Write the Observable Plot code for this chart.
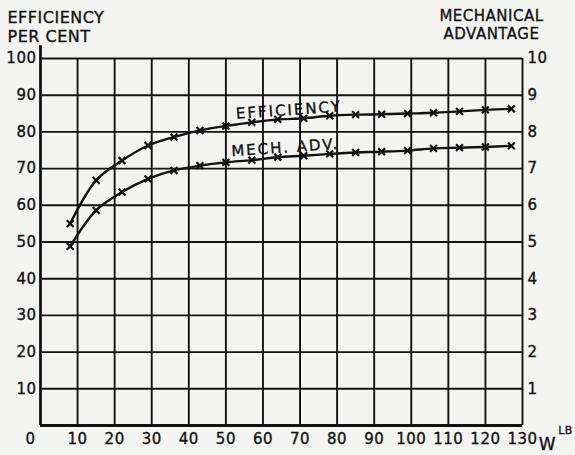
<!DOCTYPE html>
<html>
<head>
<meta charset="utf-8">
<script src="https://cdn.jsdelivr.net/npm/d3@7"></script>
<script src="https://cdn.jsdelivr.net/npm/@observablehq/plot@0.6"></script>
<style>
  html, body { margin: 0; padding: 0; background: #f4f4f2; }
  svg text { letter-spacing: 0.5px; stroke: #121212; stroke-width: 0.35px; }
  svg .curve-label text { letter-spacing: 2px; }
</style>
</head>
<body>
<div id="chart"></div>
<script>
// Load W (lb)
const load = [8, 15, 22, 29, 36, 43, 50, 57, 64, 71, 78, 85, 92, 99, 106, 113, 120, 127];
// Efficiency, per cent
const efficiency = [55.0, 66.8, 72.2, 76.3, 78.6, 80.4, 81.6, 82.6, 83.4, 83.7, 84.4, 84.7, 84.8, 85.0, 85.2, 85.6, 86.0, 86.3];
// Mechanical advantage
const mechAdv = [4.88, 5.86, 6.36, 6.72, 6.95, 7.08, 7.17, 7.23, 7.31, 7.35, 7.40, 7.44, 7.46, 7.49, 7.55, 7.57, 7.59, 7.62];

const xTicks = [10, 20, 30, 40, 50, 60, 70, 80, 90, 100, 110, 120, 130];
const yTicks = [10, 20, 30, 40, 50, 60, 70, 80, 90, 100];
const maTickLabels = ["1", "2", "3", "4", "5", "6", "7", "8", "9", "10"];

const curveLabels = [
  {text: "EFFICIENCY", w: 67, v: 85.9},
  {text: "MECH. ADV.", w: 66, v: 75.7}
];

const data = load.map((w, i) => ({w, eff: efficiency[i], ma: mechAdv[i]}));
const ink = "#121212";
const font = "'DejaVu Sans', sans-serif";

const chart = Plot.plot({
  width: 575,
  height: 455,
  marginLeft: 40,
  marginRight: 53,
  marginTop: 58,
  marginBottom: 30,
  style: {background: "#f4f4f2", fontFamily: font, fontSize: "15px", color: ink, overflow: "visible"},
  x: {domain: [0, 130]},
  y: {domain: [0, 100]},
  marks: [
    Plot.gridX(xTicks, {stroke: ink, strokeOpacity: 1, strokeWidth: 1.9}),
    Plot.gridY(yTicks, {stroke: ink, strokeOpacity: 1, strokeWidth: 1.9}),
    Plot.ruleX([0], {y1: 0, y2: 103.5, stroke: ink, strokeWidth: 2.8}),
    Plot.ruleY([0], {x1: 0, x2: 130, stroke: ink, strokeWidth: 2.8}),
    Plot.axisX(xTicks, {tickSize: 0, tickPadding: 8, label: null, fill: ink}),
    Plot.axisX([0], {tickSize: 0, tickPadding: 8, label: null, dx: -10, fill: ink}),
    Plot.axisY(yTicks, {anchor: "left", tickSize: 0, tickPadding: 4, label: null, fill: ink}),
    Plot.axisY(yTicks, {anchor: "right", tickSize: 0, tickPadding: 5, label: null, fill: ink,
      tickFormat: (d) => maTickLabels[yTicks.indexOf(d)]}),
    Plot.line(data, {x: "w", y: "eff", curve: "catmull-rom", stroke: ink, strokeWidth: 2.4}),
    Plot.line(data, {x: "w", y: (d) => d.ma * 10, curve: "catmull-rom", stroke: ink, strokeWidth: 2.4}),
    Plot.dot(data, {x: "w", y: "eff", symbol: "times", r: 3.2, stroke: ink, strokeWidth: 2.2}),
    Plot.dot(data, {x: "w", y: (d) => d.ma * 10, symbol: "times", r: 3.2, stroke: ink, strokeWidth: 2.2}),
    Plot.text(curveLabels, {x: "w", y: "v", text: "text", rotate: -4, fontSize: 15, fill: ink, className: "curve-label"}),
    Plot.text(["EFFICIENCY\nPER CENT"], {frameAnchor: "top-left", dx: -33, dy: -49, textAnchor: "start",
      lineAnchor: "top", lineHeight: 1.2, fontSize: 16, fill: ink}),
    Plot.text(["MECHANICAL\nADVANTAGE"], {frameAnchor: "top-right", dx: -31, dy: -50, textAnchor: "middle",
      lineAnchor: "top", lineHeight: 1.2, fontSize: 15, fill: ink}),
    Plot.text(["LB"], {frameAnchor: "bottom-right", dx: 43, dy: 1, textAnchor: "middle", lineAnchor: "top",
      fontSize: 11, fill: ink}),
    Plot.text(["W"], {frameAnchor: "bottom-right", dx: 25, dy: 12, textAnchor: "middle", lineAnchor: "top",
      fontSize: 17, fill: ink})
  ]
});
document.getElementById("chart").appendChild(chart);
</script>
</body>
</html>
